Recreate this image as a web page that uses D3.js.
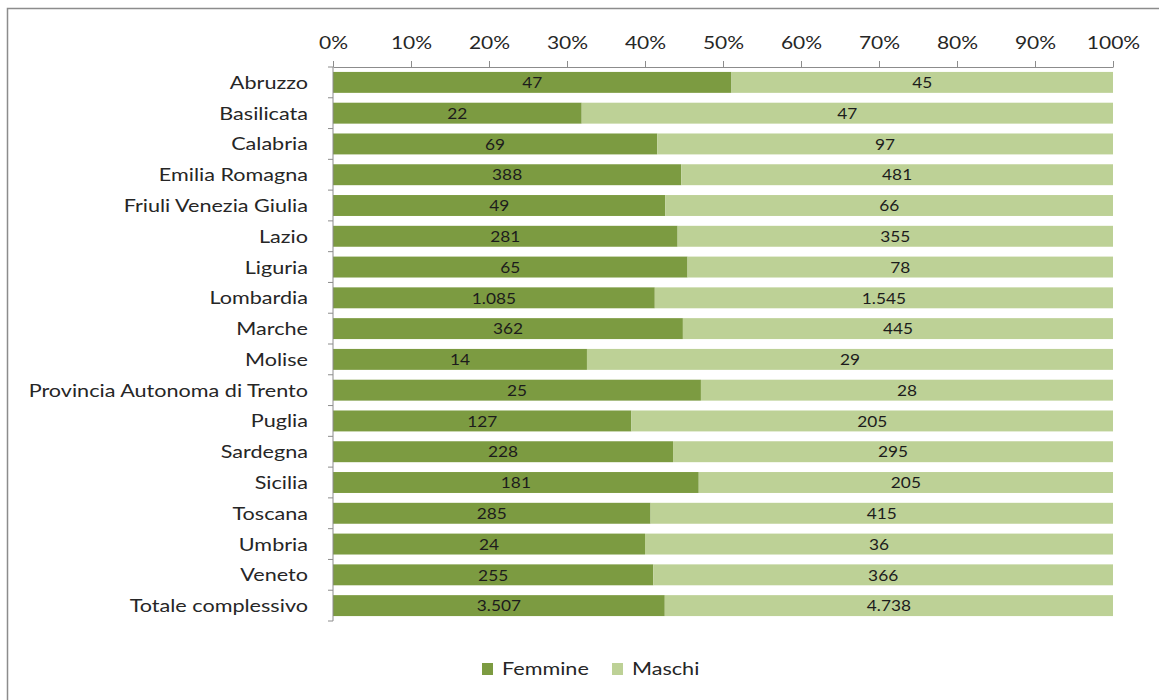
<!DOCTYPE html>
<html>
<head>
<meta charset="utf-8">
<script src="https://cdn.jsdelivr.net/npm/d3@7"></script>
<style>
  html, body { margin: 0; padding: 0; background: #fff; }
  svg { display: block; }
  text { font-family: "Lato", "Open Sans", sans-serif; fill: #262626; }
</style>
</head>
<body>
<svg id="chart" width="1159" height="700"></svg>
<script>
// Regions and counts by sex
const regioni = [
  "Abruzzo", "Basilicata", "Calabria", "Emilia Romagna", "Friuli Venezia Giulia",
  "Lazio", "Liguria", "Lombardia", "Marche", "Molise",
  "Provincia Autonoma di Trento", "Puglia", "Sardegna", "Sicilia", "Toscana",
  "Umbria", "Veneto", "Totale complessivo"
];
const femmine = [47, 22, 69, 388, 49, 281, 65, 1085, 362, 14, 25, 127, 228, 181, 285, 24, 255, 3507];
const maschi  = [45, 47, 97, 481, 66, 355, 78, 1545, 445, 29, 28, 205, 295, 205, 415, 36, 366, 4738];
const tickValues = [0, 0.1, 0.2, 0.3, 0.4, 0.5, 0.6, 0.7, 0.8, 0.9, 1];
const serie = ["Femmine", "Maschi"];
const colori = ["#7c9b41", "#bdd196"];

const it = d3.formatLocale({ decimal: ",", thousands: ".", grouping: [3], currency: ["€", ""] });
const fmt = it.format(",d");

const svg = d3.select("#chart");
const W = 1159, H = 700;
const WIDE = "scale(1.2,1)";   // wide-set lettering

// outer frame
svg.append("rect")
  .attr("x", 7.5).attr("y", 8.5)
  .attr("width", W).attr("height", H)
  .attr("fill", "none").attr("stroke", "#8c8c8c").attr("stroke-width", 1.5);

const plotL = 333, plotR = 1113, plotT = 67, plotB = 621;

const x = d3.scaleLinear().domain([0, 1]).range([plotL, plotR]);
const y = d3.scaleBand().domain(regioni).range([plotT, plotB]).paddingInner(0.32).paddingOuter(0.16);

const rows = regioni.map((r, i) => {
  const tot = femmine[i] + maschi[i];
  return { regione: r, Femmine: femmine[i] / tot, Maschi: maschi[i] / tot, vF: femmine[i], vM: maschi[i] };
});
const stack = d3.stack().keys(serie)(rows);

// bars
stack.forEach((layer, si) => {
  const g = svg.append("g");
  g.selectAll("rect").data(layer).join("rect")
    .attr("x", d => x(d[0]))
    .attr("y", d => y(d.data.regione))
    .attr("width", d => x(d[1]) - x(d[0]))
    .attr("height", y.bandwidth())
    .attr("fill", colori[si]);
  g.selectAll("g.lbl").data(layer).join("g")
    .attr("class", "lbl")
    .attr("transform", d => `translate(${(x(d[0]) + x(d[1])) / 2},${y(d.data.regione) + y.bandwidth() / 2})`)
    .append("text")
    .attr("transform", "scale(1.08,1)")
    .attr("dy", "0.36em")
    .attr("text-anchor", "middle")
    .style("font-size", "16px")
    .style("fill", "#1c1c1c")
    .text(d => fmt(si === 0 ? d.data.vF : d.data.vM));
});

// top percentage axis
const xAxis = d3.axisTop(x).tickValues(tickValues)
  .tickFormat(d3.format(".0%")).tickSize(6).tickSizeOuter(0).tickPadding(12);
const gx = svg.append("g").attr("transform", `translate(0,${plotT})`).call(xAxis);
gx.attr("font-family", null).attr("font-size", null);
gx.select(".domain").attr("stroke", "#8c8c8c");
gx.selectAll(".tick line").attr("stroke", "#8c8c8c");
gx.selectAll(".tick text").style("font-size", "17.5px").style("fill", "#262626")
  .attr("transform", WIDE);

// category axis with ticks at band boundaries
svg.append("line")
  .attr("x1", plotL).attr("x2", plotL).attr("y1", plotT).attr("y2", plotB)
  .attr("stroke", "#8c8c8c");
const halfGap = y.step() * y.paddingInner() / 2;
svg.append("g").selectAll("line").data(d3.range(regioni.length + 1)).join("line")
  .attr("x1", plotL - 5).attr("x2", plotL)
  .attr("y1", i => i === regioni.length ? plotB : y(regioni[i]) - halfGap)
  .attr("y2", i => i === regioni.length ? plotB : y(regioni[i]) - halfGap)
  .attr("stroke", "#8c8c8c");

svg.append("g").selectAll("g").data(regioni).join("g")
  .attr("transform", d => `translate(${plotL - 25},${y(d) + y.bandwidth() / 2})`)
  .append("text")
  .attr("transform", WIDE)
  .attr("dy", "0.36em")
  .attr("text-anchor", "end")
  .style("font-size", "18px")
  .text(d => d);

// legend
const legend = svg.append("g").attr("transform", "translate(482,669)");
const lx = [0, 130];
serie.forEach((s, i) => {
  legend.append("rect").attr("x", lx[i]).attr("y", -6).attr("width", 11).attr("height", 12).attr("fill", colori[i]);
  legend.append("g").attr("transform", `translate(${lx[i] + 20},0)`)
    .append("text").attr("transform", WIDE).attr("dy", "0.36em")
    .style("font-size", "18px").text(s);
});
</script>
</body>
</html>
